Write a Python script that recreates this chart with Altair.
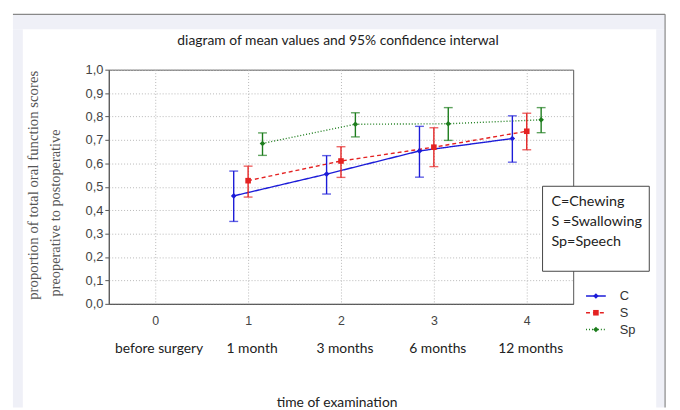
import altair as alt
import pandas as pd

# ---- data ----
times = [1, 2, 3, 4]
series = ["C", "S", "Sp"]
C_mean = [0.461, 0.554, 0.653, 0.706]
C_lo = [0.352, 0.469, 0.541, 0.605]
C_hi = [0.567, 0.633, 0.758, 0.803]
S_mean = [0.526, 0.610, 0.669, 0.737]
S_lo = [0.456, 0.540, 0.586, 0.658]
S_hi = [0.588, 0.671, 0.752, 0.814]
Sp_mean = [0.685, 0.767, 0.769, 0.786]
Sp_lo = [0.634, 0.713, 0.698, 0.731]
Sp_hi = [0.730, 0.816, 0.838, 0.838]
x_ticks = [0, 1, 2, 3, 4]
y_ticks = [0.0, 0.1, 0.2, 0.3, 0.4, 0.5, 0.6, 0.7, 0.8, 0.9, 1.0]
x_names = ["before surgery", "1 month", "3 months", "6 months", "12 months"]
legend_lines = ["C=Chewing", "S =Swallowing", "Sp=Speech"]
colors = ["#1c1cd8", "#e42222", "#1d7d1d"]
dodge = [-0.155, 0.0, 0.155]

means = [C_mean, S_mean, Sp_mean]
los = [C_lo, S_lo, Sp_lo]
his = [C_hi, S_hi, Sp_hi]
rows = []
for i, s in enumerate(series):
    for j, t in enumerate(times):
        rows.append({"series": s, "idx": i, "t": t, "mean": means[i][j],
                     "lo": los[i][j], "hi": his[i][j]})
df = pd.DataFrame(rows)
names_df = pd.DataFrame({"t": x_ticks, "name": x_names})
dummy = pd.DataFrame({"k": [0]})

W, H = 470, 237
xscale = alt.Scale(domain=[-0.5, 4.5], nice=False, zero=False)
yscale = alt.Scale(domain=[0, 1], nice=False, zero=False)
cscale = alt.Scale(domain=series, range=colors)

xaxis = alt.Axis(
    values=x_ticks, format="d", title=None, grid=True, gridDash=[1, 2],
    gridColor="#b8b8b8", ticks=False, labelFont="Liberation Sans",
    labelFontSize=12.5, labelColor="#444", labelPadding=11, domainColor="#555",
    labelAngle=0)
yaxis = alt.Axis(
    values=y_ticks, tickCount=11, labelOverlap=False,
    labelExpr="replace(format(datum.value, '.1f'), '.', ',')",
    title=None, grid=True, gridDash=[1, 2], gridColor="#b8b8b8",
    tickSize=4, tickColor="#555", labelPadding=2, labelFont="Liberation Sans",
    labelFontSize=13, labelColor="#444", domainColor="#555")


def X(f):
    return alt.X(f, scale=xscale, axis=xaxis)


def Y(f):
    return alt.Y(f, scale=yscale, axis=yaxis)


COL = alt.Color("series:N", scale=cscale, legend=None)

base = alt.Chart(df).transform_calculate(
    xpos=f"datum.t + [{dodge[0]}, {dodge[1]}, {dodge[2]}][datum.idx]"
)

lines = base.mark_line(strokeWidth=1.4).encode(
    x=X("xpos:Q"), y=Y("mean:Q"), color=COL,
    strokeDash=alt.StrokeDash("series:N", scale=alt.Scale(
        domain=series, range=[[1, 0], [4, 3], [1, 2]]), legend=None),
)
bars = base.mark_rule(strokeWidth=1.4).encode(
    x=X("xpos:Q"), y=Y("lo:Q"), y2="hi:Q", color=COL)
cap_lo = base.mark_tick(orient="horizontal", size=9, thickness=1.4).encode(
    x=X("xpos:Q"), y=Y("lo:Q"), color=COL)
cap_hi = base.mark_tick(orient="horizontal", size=9, thickness=1.4).encode(
    x=X("xpos:Q"), y=Y("hi:Q"), color=COL)
points = base.mark_point(filled=True, opacity=1, size=32).encode(
    x=X("xpos:Q"), y=Y("mean:Q"), color=COL,
    shape=alt.Shape("series:N", scale=alt.Scale(
        domain=series, range=["diamond", "square", "diamond"]), legend=None))

names = alt.Chart(names_df).mark_text(
    font="Lato", fontSize=14, color="#222", dx=4).encode(
    x=X("t:Q"), y=alt.value(283), text="name:N")


def rect(x, x2, y, y2, fill, stroke=None):
    kw = {"fill": fill}
    if stroke:
        kw["stroke"] = stroke
        kw["strokeWidth"] = 1
    return alt.Chart(dummy).mark_rect(**kw).encode(
        x=alt.value(x), x2=alt.value(x2), y=alt.value(y), y2=alt.value(y2))


def text(s, x, y, **kw):
    return alt.Chart(dummy).mark_text(**kw).encode(
        x=alt.value(x), y=alt.value(y), text=alt.value(s))


lav = "#eff0f7"
frame = [
    rect(-97, 563, -56, -41, lav),
    rect(-97, -87, -41, 342, lav),
    rect(554, 563, -41, 342, lav),
    alt.Chart(dummy).mark_rule(color="#888", strokeWidth=1.2).encode(
        x=alt.value(-97), x2=alt.value(563), y=alt.value(-56)),
    alt.Chart(dummy).mark_rule(color="#888", strokeWidth=1.2).encode(
        x=alt.value(563), y=alt.value(-56), y2=alt.value(342)),
]

texts = [
    text("diagram of mean values and 95% confidence interwal", 232, -29,
         font="Lato", fontSize=14, color="#222"),
    text("proportion of total oral function scores", -77, 117, angle=270,
         font="Liberation Serif", fontSize=15, color="#555"),
    text("preoperative to postoperative", -53, 145, angle=270,
         font="Liberation Serif", fontSize=14.5, color="#555"),
    text("time of examination", 231, 337, font="Lato", fontSize=14,
         color="#222"),
]

legend_box = [rect(439, 547, 118, 204, "white", stroke="#444")]
for k, s in enumerate(legend_lines):
    legend_box.append(text(s, 448, 134 + 20 * k, align="left", font="Lato",
                           fontSize=14.5, color="#222"))

sym = []
dashes = [[1, 0], [4, 3], [1, 2]]
shapes = ["diamond", "square", "diamond"]
for i, s in enumerate(series):
    ly = 229 + 17 * i
    sym.append(alt.Chart(dummy).mark_rule(
        color=colors[i], strokeWidth=1.4, strokeDash=dashes[i]).encode(
        x=alt.value(483), x2=alt.value(503), y=alt.value(ly)))
    sym.append(alt.Chart(dummy).mark_point(
        shape=shapes[i], filled=True, opacity=1, size=32, color=colors[i]).encode(
        x=alt.value(493), y=alt.value(ly)))
    sym.append(text(s, 517, ly, align="left", font="Liberation Sans",
                    fontSize=13, color="#333"))

chart = alt.layer(
    *frame, lines, bars, cap_lo, cap_hi, points, names, *texts,
    *legend_box, *sym
).properties(
    width=W, height=H,
    autosize=alt.AutoSizeParams(type="none"),
    padding={"left": 102, "top": 60, "right": 100, "bottom": 105},
    background="white",
).configure_view(stroke="#555", strokeWidth=1)

chart.save("out.html", embed_options={"renderer": "svg", "actions": False})
